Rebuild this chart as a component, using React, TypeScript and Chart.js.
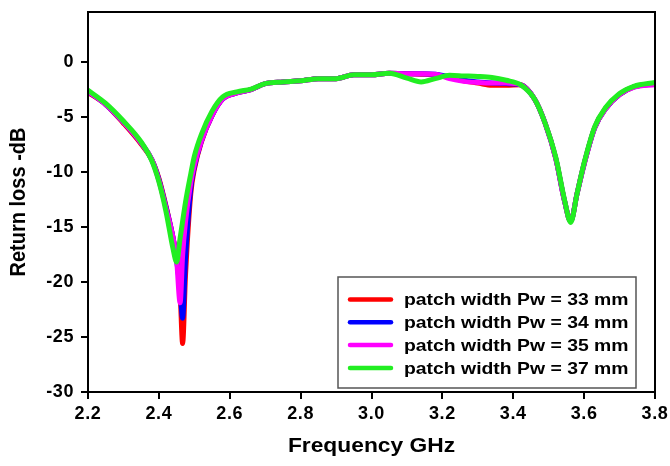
import { useEffect, useRef } from "react";
import { Chart, registerables } from "chart.js";

Chart.register(...registerables);

const FONT = '"Liberation Sans", Arial, Helvetica, sans-serif';

// Frequency sweep (GHz) shared by all four measurements
const freqGHz = [
  2.2, 2.25, 2.3, 2.35, 2.38, 2.4, 2.42, 2.44, 2.45, 2.46, 2.467, 2.475, 2.49, 2.5, 2.52, 2.55,
  2.58, 2.62, 2.66, 2.7, 2.75, 2.8, 2.85, 2.9, 2.95, 3.0, 3.05, 3.1, 3.14, 3.18, 3.22, 3.26,
  3.3, 3.34, 3.38, 3.42, 3.46, 3.49, 3.52, 3.545, 3.562, 3.58, 3.6, 3.63, 3.66, 3.7, 3.74, 3.8,
];

// Return loss (dB) for each patch width
const pw33mm = [
  -2.8, -3.9, -5.6, -7.5, -8.9, -10.6, -13.1, -16.0, -17.8, -21.0, -25.6, -19.5, -12.0, -9.8, -7.3, -4.9,
  -3.4, -2.85, -2.55, -2.0, -1.85, -1.75, -1.55, -1.55, -1.2, -1.2, -1.05, -1.1, -1.15, -1.2, -1.45, -1.75,
  -1.95, -2.15, -2.15, -2.1, -3.4, -5.6, -8.8, -12.7, -14.5, -12.0, -9.3, -6.0, -4.3, -3.0, -2.3, -2.0,
];
const pw34mm = [
  -2.7, -3.9, -5.5, -7.4, -8.9, -10.7, -13.2, -16.0, -18.0, -20.8, -23.3, -18.0, -11.5, -9.6, -7.2, -4.9,
  -3.4, -2.85, -2.55, -2.0, -1.85, -1.75, -1.55, -1.55, -1.2, -1.2, -1.05, -1.1, -1.1, -1.15, -1.4, -1.7,
  -1.85, -1.95, -2.0, -2.1, -3.4, -5.6, -8.8, -12.7, -14.5, -12.0, -9.3, -6.0, -4.3, -3.0, -2.3, -2.0,
];
const pw35mm = [
  -2.7, -3.9, -5.5, -7.4, -8.9, -10.8, -13.3, -16.0, -18.0, -21.9, -17.6, -14.6, -11.0, -9.4, -7.2, -4.9,
  -3.4, -2.85, -2.55, -2.0, -1.85, -1.75, -1.55, -1.55, -1.2, -1.2, -1.05, -1.1, -1.1, -1.15, -1.55, -1.8,
  -1.9, -1.95, -1.95, -2.1, -3.4, -5.6, -8.8, -12.7, -14.5, -12.0, -9.3, -6.0, -4.3, -3.0, -2.35, -2.1,
];
const pw37mm = [
  -2.6, -3.8, -5.4, -7.3, -9.0, -10.9, -13.6, -17.0, -18.2, -16.0, -14.5, -12.8, -10.2, -8.6, -6.6, -4.5,
  -3.2, -2.75, -2.5, -2.0, -1.85, -1.75, -1.55, -1.55, -1.2, -1.2, -1.05, -1.5, -1.85, -1.55, -1.25, -1.3,
  -1.35, -1.45, -1.7, -2.1, -3.4, -5.6, -8.7, -12.6, -14.6, -12.0, -9.2, -5.9, -4.2, -2.9, -2.25, -1.9,
];

const seriesValues = [pw33mm, pw34mm, pw35mm, pw37mm];
const seriesLabels = [
  "patch width Pw = 33 mm",
  "patch width Pw = 34 mm",
  "patch width Pw = 35 mm",
  "patch width Pw = 37 mm",
];
const seriesColors = ["#FF0000", "#0000FF", "#FF00FF", "#22EE22"];

const xTitle = "Frequency GHz";
const yTitle = "Return loss -dB";

// Glyphs in this figure are drawn slightly wide
const TEXT_STRETCH = 1.14;

const decorPlugin = {
  id: "decor",
  beforeDraw(chart: any) {
    chart.ctx.letterSpacing = "0.6px";
  },
  afterDraw(chart: any) {
    const ctx = chart.ctx as CanvasRenderingContext2D & { letterSpacing: string };
    const a = chart.chartArea;
    ctx.save();
    ctx.letterSpacing = "0px";

    // plot frame
    ctx.strokeStyle = "#000";
    ctx.lineWidth = 2;
    ctx.strokeRect(a.left, a.top, a.right - a.left, a.bottom - a.top);

    // axis titles
    ctx.fillStyle = "#000";
    ctx.font = `bold 20px ${FONT}`;
    ctx.textAlign = "center";
    ctx.save();
    ctx.textBaseline = "alphabetic";
    ctx.translate((a.left + a.right) / 2, 452);
    ctx.scale(TEXT_STRETCH, 1);
    ctx.fillText(xTitle, 0, 0);
    ctx.restore();

    ctx.save();
    ctx.textBaseline = "middle";
    ctx.translate(19, (a.top + a.bottom) / 2);
    ctx.rotate(-Math.PI / 2);
    ctx.scale(1, TEXT_STRETCH);
    ctx.fillText(yTitle, 0, 0);
    ctx.restore();

    // legend box
    const bx = 338, by = 277, bw = 298, bh = 111;
    ctx.fillStyle = "#fff";
    ctx.fillRect(bx, by, bw, bh);
    ctx.strokeStyle = "#555";
    ctx.lineWidth = 1.5;
    ctx.strokeRect(bx, by, bw, bh);

    chart.data.datasets.forEach((ds: any, i: number) => {
      const y = 299.5 + i * 22.8;
      ctx.strokeStyle = ds.borderColor;
      ctx.lineWidth = 4.5;
      ctx.lineCap = "round";
      ctx.beginPath();
      ctx.moveTo(350, y);
      ctx.lineTo(391, y);
      ctx.stroke();

      ctx.save();
      ctx.fillStyle = "#000";
      ctx.font = `bold 17px ${FONT}`;
      ctx.textAlign = "left";
      ctx.textBaseline = "middle";
      ctx.translate(404, y + 1);
      ctx.scale(TEXT_STRETCH, 1);
      ctx.fillText(ds.label, 0, 0);
      ctx.restore();
    });

    ctx.restore();
  },
};

export default function App() {
  const canvasRef = useRef<HTMLCanvasElement | null>(null);

  useEffect(() => {
    if (!canvasRef.current) return;

    const datasets = seriesValues.map((vals, i) => ({
      label: seriesLabels[i],
      data: freqGHz.map((f, j) => ({ x: f, y: vals[j] })),
      borderColor: seriesColors[i],
      backgroundColor: seriesColors[i],
      borderWidth: 5,
      borderCapStyle: "round" as const,
      borderJoinStyle: "round" as const,
      pointRadius: 0,
      cubicInterpolationMode: "monotone" as const,
      fill: false,
      // later widths are painted over earlier ones
      order: seriesValues.length - i,
    }));

    const tickFont = { family: FONT, size: 18, weight: "bold" as const };
    const grid = {
      drawOnChartArea: false,
      drawTicks: true,
      tickLength: 7,
      color: "#000",
      lineWidth: 2,
    };

    const chart = new Chart(canvasRef.current, {
      type: "line",
      data: { datasets },
      plugins: [decorPlugin],
      options: {
        animation: false,
        responsive: true,
        maintainAspectRatio: false,
        devicePixelRatio: 1,
        layout: { padding: { top: 12, right: 15, left: 0, bottom: 0 } },
        plugins: {
          legend: { display: false },
          tooltip: { enabled: false },
        },
        scales: {
          x: {
            type: "linear",
            min: 2.2,
            max: 3.8,
            afterFit: (s: any) => {
              s.height = 74;
              s.paddingLeft = 0;
              s.paddingRight = 0;
            },
            border: { display: false },
            grid,
            ticks: {
              stepSize: 0.2,
              color: "#000",
              font: tickFont,
              padding: 4,
              maxRotation: 0,
              autoSkip: false,
              callback: (v: any) => Number(v).toFixed(1),
            },
          },
          y: {
            type: "linear",
            min: -30,
            max: 4.5,
            afterFit: (s: any) => {
              s.width = 88;
              s.paddingTop = 0;
              s.paddingBottom = 0;
            },
            border: { display: false },
            grid,
            ticks: {
              stepSize: 5,
              includeBounds: false,
              color: "#000",
              font: tickFont,
              padding: 7,
              callback: (v: any) => String(v),
            },
          },
        },
      },
    });

    return () => chart.destroy();
  }, []);

  return (
    <div style={{ position: "fixed", left: 0, top: 0, width: 670, height: 466, background: "#fff" }}>
      <canvas ref={canvasRef} />
    </div>
  );
}
